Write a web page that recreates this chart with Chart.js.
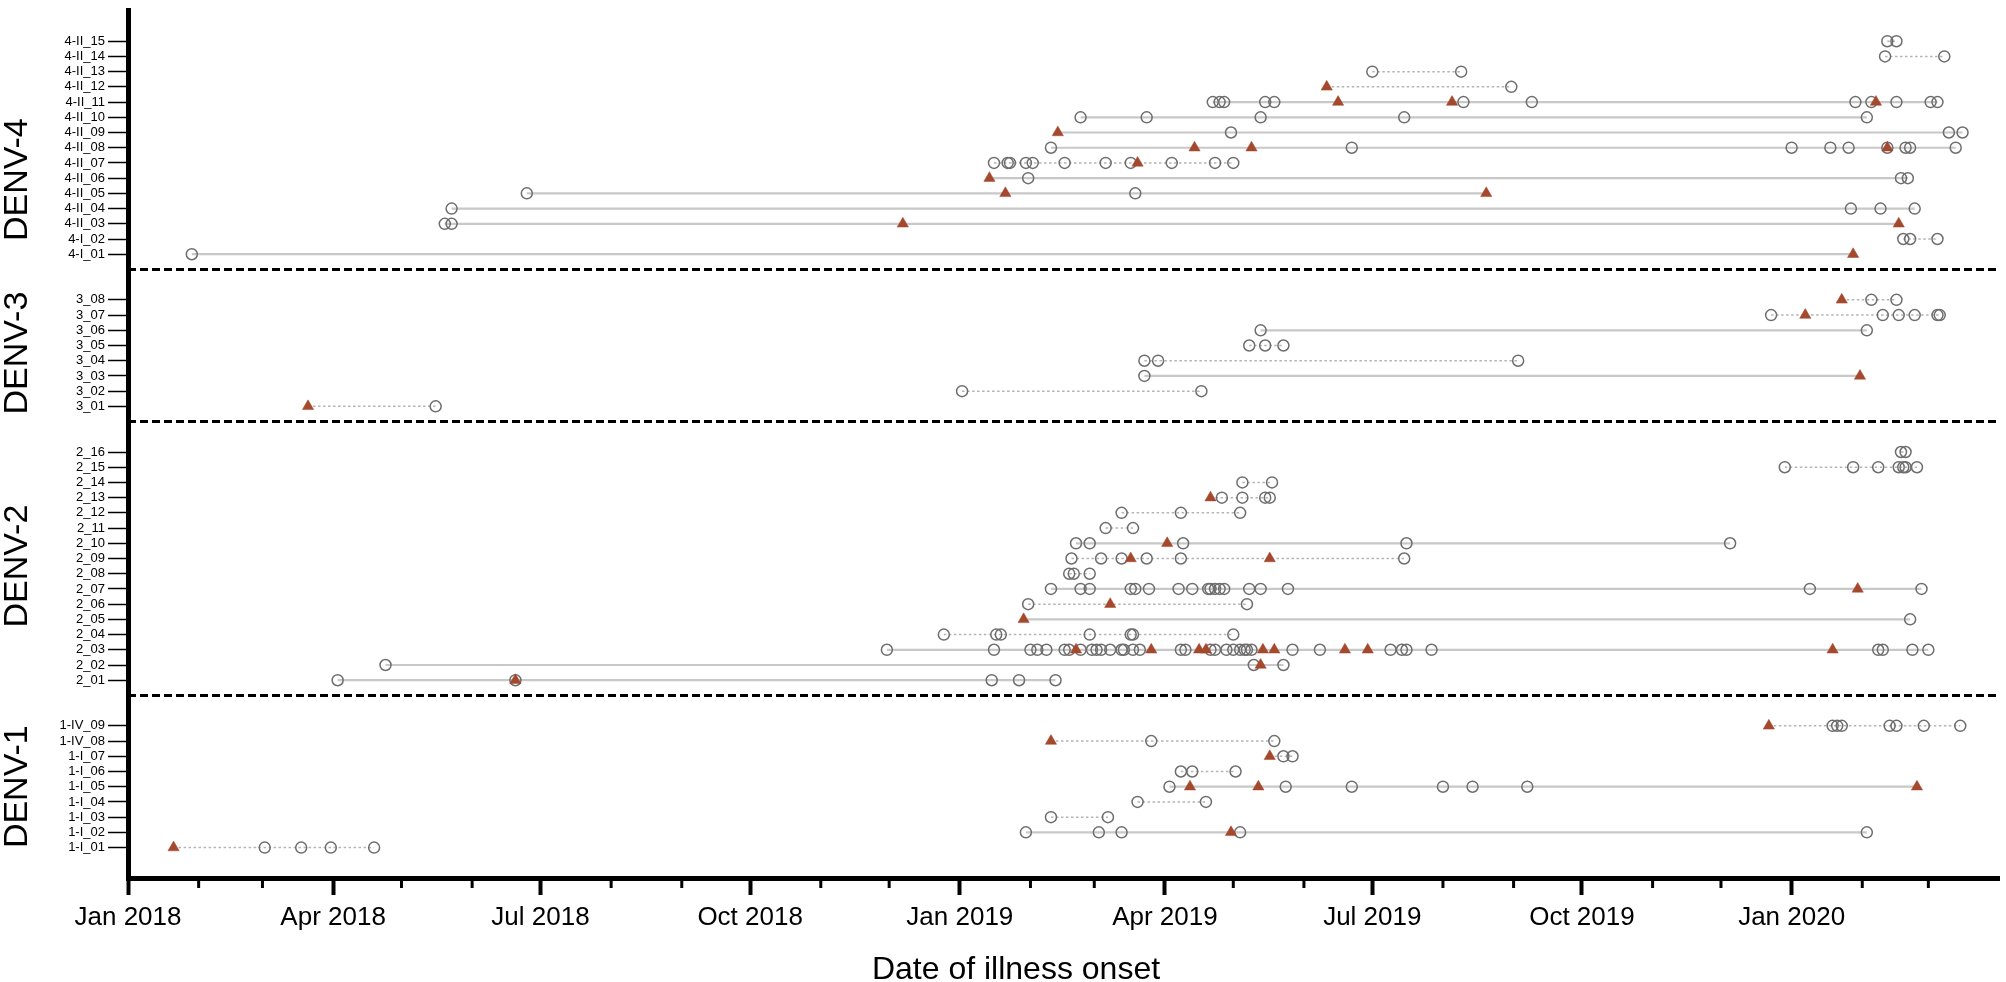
<!DOCTYPE html>
<html>
<head>
<meta charset="utf-8">
<script src="https://cdn.jsdelivr.net/npm/chart.js@4.4.1/dist/chart.umd.min.js"></script>
<style>
  html, body { margin: 0; padding: 0; background: #fff; }
  #c { display: block; }
</style>
</head>
<body>
<canvas id="c" width="2006" height="982"></canvas>
<script>
// x values are days since 1 Jan 2018 (date of illness onset)
const startYear = 2018;
const monthCount = 27;           // Jan 2018 .. Mar 2020 ticks
const xMaxDay = 821;             // 1 Apr 2020
const quarterLabels = ["Jan 2018", "Apr 2018", "Jul 2018", "Oct 2018",
  "Jan 2019", "Apr 2019", "Jul 2019", "Oct 2019", "Jan 2020"];

/* ---------------- DENV-1 ---------------- */
const denv1Labels = ["1-I_01", "1-I_02", "1-I_03", "1-I_04", "1-I_05", "1-I_06", "1-I_07", "1-IV_08", "1-IV_09"];
const denv1Circles = [
  [60, 76, 89, 108], [394, 426, 436, 488, 763], [405, 430], [443, 473],
  [457, 508, 537, 577, 590, 614], [462, 467, 486], [507, 511], [449, 503],
  [748, 750, 752, 773, 776, 788, 804]
];
const denv1Triangles = [[20], [484], [], [], [466, 496, 785], [], [501], [405], [720]];
const denv1Dotted = [1, 0, 1, 1, 0, 1, 1, 1, 1];

/* ---------------- DENV-2 ---------------- */
const denv2Labels = ["2_01", "2_02", "2_03", "2_04", "2_05", "2_06", "2_07", "2_08",
  "2_09", "2_10", "2_11", "2_12", "2_13", "2_14", "2_15", "2_16"];
const denv2Circles = [
  [92, 170, 379, 391, 407],
  [113, 494, 507],
  [333, 380, 396, 399, 403, 411, 413, 418, 423, 425, 427, 431, 436, 437, 441, 444, 462, 464,
   475, 477, 482, 485, 488, 490, 491, 493, 511, 523, 554, 559, 561, 572, 768, 770, 783, 790],
  [358, 381, 383, 422, 440, 441, 485],
  [782],
  [395, 491],
  [405, 418, 422, 440, 442, 448, 461, 467, 474, 475, 477, 479, 481, 492, 497, 509, 738, 787],
  [413, 415, 422],
  [414, 427, 436, 447, 462, 560],
  [416, 422, 463, 561, 703],
  [429, 441],
  [436, 462, 488],
  [480, 489, 499, 501],
  [489, 502],
  [727, 757, 768, 777, 779, 780, 785],
  [778, 780]
];
const denv2Triangles = [[170], [497], [416, 449, 470, 473, 498, 503, 534, 544, 748], [], [393], [431],
  [759], [], [440, 501], [456], [], [], [475], [], [], []];
const denv2Dotted = [0, 0, 0, 1, 0, 1, 0, 1, 1, 0, 1, 1, 1, 1, 1, 1];

/* ---------------- DENV-3 ---------------- */
const denv3Labels = ["3_01", "3_02", "3_03", "3_04", "3_05", "3_06", "3_07", "3_08"];
const denv3Circles = [[135], [366, 471], [446], [446, 452, 610], [492, 499, 507], [497, 763],
  [721, 770, 777, 784, 794, 795], [765, 776]];
const denv3Triangles = [[79], [], [760], [], [], [], [736], [752]];
const denv3Dotted = [1, 1, 0, 1, 1, 0, 1, 1];

/* ---------------- DENV-4 ---------------- */
const denv4Labels = ["4-I_01", "4-I_02", "4-II_03", "4-II_04", "4-II_05", "4-II_06", "4-II_07", "4-II_08",
  "4-II_09", "4-II_10", "4-II_11", "4-II_12", "4-II_13", "4-II_14", "4-II_15"];
const denv4Circles = [
  [28], [779, 782, 794], [139, 142], [142, 756, 769, 784], [175, 442], [395, 778, 781],
  [380, 386, 387, 394, 397, 411, 429, 440, 458, 477, 485],
  [405, 537, 730, 747, 755, 772, 780, 782, 802],
  [484, 799, 805], [418, 447, 497, 560, 763],
  [476, 479, 481, 499, 503, 586, 616, 758, 765, 776, 791, 794],
  [607], [546, 585], [771, 797], [772, 776]
];
const denv4Triangles = [[757], [], [340, 777], [], [385, 596], [378], [443], [468, 493, 772],
  [408], [], [531, 581, 767], [526], [], [], []];
const denv4Dotted = [0, 1, 0, 0, 0, 0, 1, 0, 0, 0, 0, 1, 1, 1, 1];

const groupNames = ["DENV-1", "DENV-2", "DENV-3", "DENV-4"];
const groupLabels = [denv1Labels, denv2Labels, denv3Labels, denv4Labels];
const groupCircles = [denv1Circles, denv2Circles, denv3Circles, denv4Circles];
const groupTriangles = [denv1Triangles, denv2Triangles, denv3Triangles, denv4Triangles];
const groupDotted = [denv1Dotted, denv2Dotted, denv3Dotted, denv4Dotted];

/* -----------------------------------------------------
   ROW SLOTS (one slot per row, blank + separator between groups)
----------------------------------------------------- */
const rowValues = [];
const rowNames = [];
const separators = [];
const groupCenters = [];
const lineSets = [];
const circlePts = [];
const trianglePts = [];

let slot = 2;
groupNames.forEach((name, gi) => {
  if (gi > 0) { separators.push(slot + 1); slot += 2; }
  const first = slot;
  groupLabels[gi].forEach((label, ri) => {
    const c = groupCircles[gi][ri];
    const t = groupTriangles[gi][ri];
    const all = c.concat(t);
    rowValues.push(slot);
    rowNames.push(label);
    c.forEach(d => circlePts.push({ x: d, y: slot }));
    t.forEach(d => trianglePts.push({ x: d, y: slot }));
    const dotted = groupDotted[gi][ri] === 1;
    lineSets.push({
      data: [{ x: Math.min(...all), y: slot }, { x: Math.max(...all), y: slot }],
      showLine: true,
      borderColor: dotted ? "#b4b4b4" : "#c8c8c8",
      borderWidth: dotted ? 1.5 : 2.2,
      borderDash: dotted ? [2.5, 2.5] : [],
      pointRadius: 0,
      order: 3
    });
    slot++;
  });
  groupCenters.push({ name, value: (first + slot - 1) / 2 });
});
const yMax = slot + 1;
// the DENV-4 title sits lower than its block centre in the original
groupCenters[3].value -= 2.1;

separators.forEach(s => {
  lineSets.push({
    data: [{ x: 0, y: s }, { x: xMaxDay, y: s }],
    showLine: true,
    borderColor: "#000",
    borderWidth: 3,
    borderDash: [8, 4],
    pointRadius: 0,
    order: 3
  });
});

const monthStarts = [];
const monthLabels = [];
for (let m = 0; m < monthCount; m++) {
  monthStarts.push((Date.UTC(startYear, m, 1) - Date.UTC(startYear, 0, 1)) / 86400000);
  monthLabels.push(m % 3 === 0 ? quarterLabels[m / 3] : "");
}

/* -----------------------------------------------------
   EXTRA DRAWING: minor ticks, group labels, axis title
----------------------------------------------------- */
const decorPlugin = {
  id: "decor",
  afterDraw(chart) {
    const { ctx, scales: { x, y } } = chart;
    ctx.save();
    ctx.strokeStyle = "#000";
    ctx.lineWidth = 3;
    monthStarts.forEach((d, i) => {
      if (monthLabels[i]) return;
      const px = x.getPixelForValue(d);
      ctx.beginPath();
      ctx.moveTo(px, chart.chartArea.bottom);
      ctx.lineTo(px, chart.chartArea.bottom + 10);
      ctx.stroke();
    });

    ctx.fillStyle = "#000";
    ctx.font = "34px 'Liberation Sans', Arial, sans-serif";
    ctx.textAlign = "center";
    ctx.textBaseline = "alphabetic";
    groupCenters.forEach(g => {
      ctx.save();
      ctx.translate(27, y.getPixelForValue(g.value));
      ctx.rotate(-Math.PI / 2);
      ctx.fillText(g.name, 0, 0);
      ctx.restore();
    });

    ctx.font = "32px 'Liberation Sans', Arial, sans-serif";
    ctx.fillText("Date of illness onset", 1016, 979);
    ctx.restore();
  }
};

new Chart(document.getElementById("c"), {
  type: "scatter",
  data: {
    datasets: [
      ...lineSets,
      {
        data: circlePts,
        pointStyle: "circle",
        pointRadius: 5.5,
        pointBorderWidth: 1.5,
        pointBorderColor: "#6e6e6e",
        pointBackgroundColor: "rgba(0,0,0,0)",
        order: 2
      },
      {
        data: trianglePts,
        pointStyle: "triangle",
        pointRadius: 6.5,
        pointBorderWidth: 0.5,
        pointBorderColor: "#a4482e",
        pointBackgroundColor: "#a4482e",
        order: 1
      }
    ]
  },
  options: {
    responsive: false,
    animation: false,
    devicePixelRatio: 1,
    layout: { padding: { top: 3, right: 4, left: 0, bottom: 0 } },
    plugins: {
      legend: { display: false },
      tooltip: { enabled: false }
    },
    scales: {
      x: {
        type: "linear",
        min: 0,
        max: xMaxDay,
        afterBuildTicks: s => { s.ticks = monthStarts.map(v => ({ value: v })); },
        afterFit: s => { s.height = 104; },
        ticks: {
          autoSkip: false,
          maxRotation: 0,
          padding: 7,
          color: "#000",
          font: { family: "'Liberation Sans', Arial, sans-serif", size: 26 },
          callback: (v, i) => monthLabels[i]
        },
        grid: {
          drawOnChartArea: false,
          tickLength: 17,
          tickWidth: 4,
          tickColor: c => (monthLabels[c.index] ? "#000" : "rgba(0,0,0,0)")
        },
        border: { width: 5, color: "#000" }
      },
      y: {
        type: "linear",
        min: 0,
        max: yMax,
        afterBuildTicks: s => { s.ticks = rowValues.map(v => ({ value: v })); },
        afterFit: s => { s.width = 128; },
        ticks: {
          autoSkip: false,
          padding: 3,
          color: "#000",
          font: { family: "'Liberation Sans Narrow', 'Liberation Sans', Arial, sans-serif", size: 13 },
          callback: (v, i) => rowNames[i]
        },
        grid: {
          drawOnChartArea: false,
          tickLength: 20,
          tickWidth: 1.5,
          tickColor: "#000"
        },
        border: { width: 5, color: "#000" }
      }
    }
  },
  plugins: [decorPlugin]
});
</script>
</body>
</html>
